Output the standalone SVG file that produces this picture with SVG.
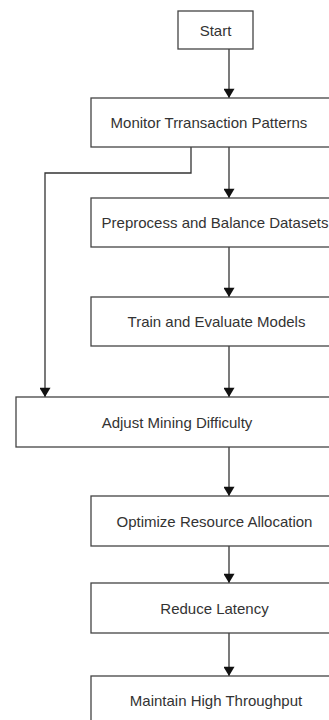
<svg xmlns="http://www.w3.org/2000/svg" width="329" height="720" viewBox="0 0 329 720">
<defs>
<style>
.box{fill:#fff;stroke:#444;stroke-width:1.3}
.lbl{font-family:"Liberation Sans",Arial,sans-serif;font-size:15px;fill:#333;text-anchor:middle;dominant-baseline:central}
.edge{fill:none;stroke:#333;stroke-width:1.3}
</style>
<marker id="ah" viewBox="0 0 10 12" refX="10" refY="6" markerWidth="12" markerHeight="11" markerUnits="userSpaceOnUse" orient="auto">
<path d="M0,0 L10,6 L0,12 z" fill="#111"/>
</marker>
</defs>
<rect width="329" height="720" fill="#fff"/>
<g id="connectors">
<path class="edge" d="M229,49 V98" marker-end="url(#ah)"/>
<path class="edge" d="M229,147 V198" marker-end="url(#ah)"/>
<path class="edge" d="M191,147 V173 H45 V397" marker-end="url(#ah)"/>
<path class="edge" d="M229,247 V297" marker-end="url(#ah)"/>
<path class="edge" d="M229,346 V397" marker-end="url(#ah)"/>
<path class="edge" d="M229,447 V496" marker-end="url(#ah)"/>
<path class="edge" d="M229,546 V583" marker-end="url(#ah)"/>
<path class="edge" d="M229,633 V676" marker-end="url(#ah)"/>
</g>
<g id="start"><rect class="box" x="178" y="11" width="75" height="38"/><text class="lbl" x="215.5" y="30">Start</text></g>
<g id="monitor"><rect class="box" x="91" y="98" width="250" height="49"/><text class="lbl" x="209" y="122.5">Monitor Trransaction Patterns</text></g>
<g id="preprocess"><rect class="box" x="91" y="198" width="250" height="49"/><text class="lbl" x="215" y="222.5">Preprocess and Balance Datasets</text></g>
<g id="train"><rect class="box" x="91" y="297" width="250" height="49"/><text class="lbl" x="216.5" y="321.5">Train and Evaluate Models</text></g>
<g id="adjust"><rect class="box" x="16" y="397" width="325" height="50"/><text class="lbl" x="177" y="422">Adjust Mining Difficulty</text></g>
<g id="optimize"><rect class="box" x="91" y="496" width="250" height="50"/><text class="lbl" x="214.5" y="521">Optimize Resource Allocation</text></g>
<g id="reduce"><rect class="box" x="91" y="583" width="250" height="50"/><text class="lbl" x="214.5" y="608">Reduce Latency</text></g>
<g id="maintain"><rect class="box" x="91" y="676" width="250" height="50"/><text class="lbl" x="216" y="700">Maintain High Throughput</text></g>
</svg>
